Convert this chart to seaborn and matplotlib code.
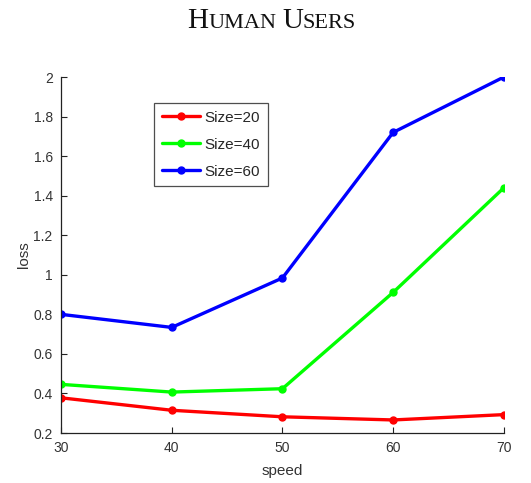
import matplotlib
matplotlib.use("Agg")
import matplotlib.pyplot as plt
import seaborn as sns
import pandas as pd

# data
speed = [30, 40, 50, 60, 70]
loss_size20 = [0.378, 0.315, 0.282, 0.266, 0.293]
loss_size40 = [0.446, 0.407, 0.424, 0.911, 1.440]
loss_size60 = [0.800, 0.734, 0.984, 1.720, 2.000]
series_names = ["Size=20", "Size=40", "Size=60"]
colors = ["#ff0000", "#00ff00", "#0000ff"]

df = pd.concat([
    pd.DataFrame({"speed": speed, "loss": vals, "series": name})
    for name, vals in zip(series_names, [loss_size20, loss_size40, loss_size60])
])

sns.set_theme(style="ticks")
plt.rcParams["font.family"] = ["Liberation Sans", "DejaVu Sans"]
plt.rcParams["xtick.direction"] = "in"
plt.rcParams["ytick.direction"] = "in"

fig = plt.figure(figsize=(5.31, 4.83), dpi=100)
ax = fig.add_axes([0.1149, 0.1035, 0.834, 0.737])

sns.lineplot(
    data=df, x="speed", y="loss", hue="series",
    palette=dict(zip(series_names, colors)),
    marker="o", markersize=5, linewidth=2.4, ax=ax,
)
for line in ax.get_lines():
    line.set_markeredgecolor(line.get_color())
    line.set_markeredgewidth(1.0)

ax.set_xlim(30, 70)
ax.set_ylim(0.2, 2.0)
ax.set_xticks([30, 40, 50, 60, 70])
ax.set_yticks([0.2, 0.4, 0.6, 0.8, 1.0, 1.2, 1.4, 1.6, 1.8, 2.0])
ax.set_yticklabels(["0.2", "0.4", "0.6", "0.8", "1", "1.2", "1.4", "1.6", "1.8", "2"])
ax.tick_params(labelsize=10, colors="#222222", length=4, width=0.8, pad=6)
ax.tick_params(labelcolor="#333333")
for side in ["top", "right"]:
    ax.spines[side].set_visible(False)
for side in ["left", "bottom"]:
    ax.spines[side].set_color("#222222")
    ax.spines[side].set_linewidth(0.9)
ax.set_xlabel("speed", fontsize=11, color="#333333", labelpad=6)
ax.set_ylabel("loss", fontsize=11, color="#333333", labelpad=2)

leg = ax.legend(
    loc="upper left", bbox_to_anchor=(0.21, 0.927), borderaxespad=0, fontsize=11,
    frameon=True, fancybox=False, edgecolor="#222222",
    handlelength=2.5, handletextpad=0.3, labelspacing=0.85, borderpad=0.5,
)
leg.get_frame().set_linewidth(0.9)
for h in leg.get_lines():
    h.set_markeredgecolor(h.get_color())

# small-caps title, built from pieces
fig.canvas.draw()
renderer = fig.canvas.get_renderer()
pieces = [("H", 21), ("UMAN", 16), (" ", 16), ("U", 21), ("SERS", 16)]
texts = []
x = 0.0
for s, size in pieces:
    t = fig.text(x, 0.943, s, fontsize=size, family="Liberation Serif",
                 color="#111111", ha="left", va="baseline")
    fig.canvas.draw()
    bb = t.get_window_extent(renderer)
    x += bb.width / fig.bbox.width
    texts.append(t)
start = 0.512 - x / 2
for t in texts:
    px, py = t.get_position()
    t.set_position((px + start, py))

fig.savefig("out.png", dpi=100)
